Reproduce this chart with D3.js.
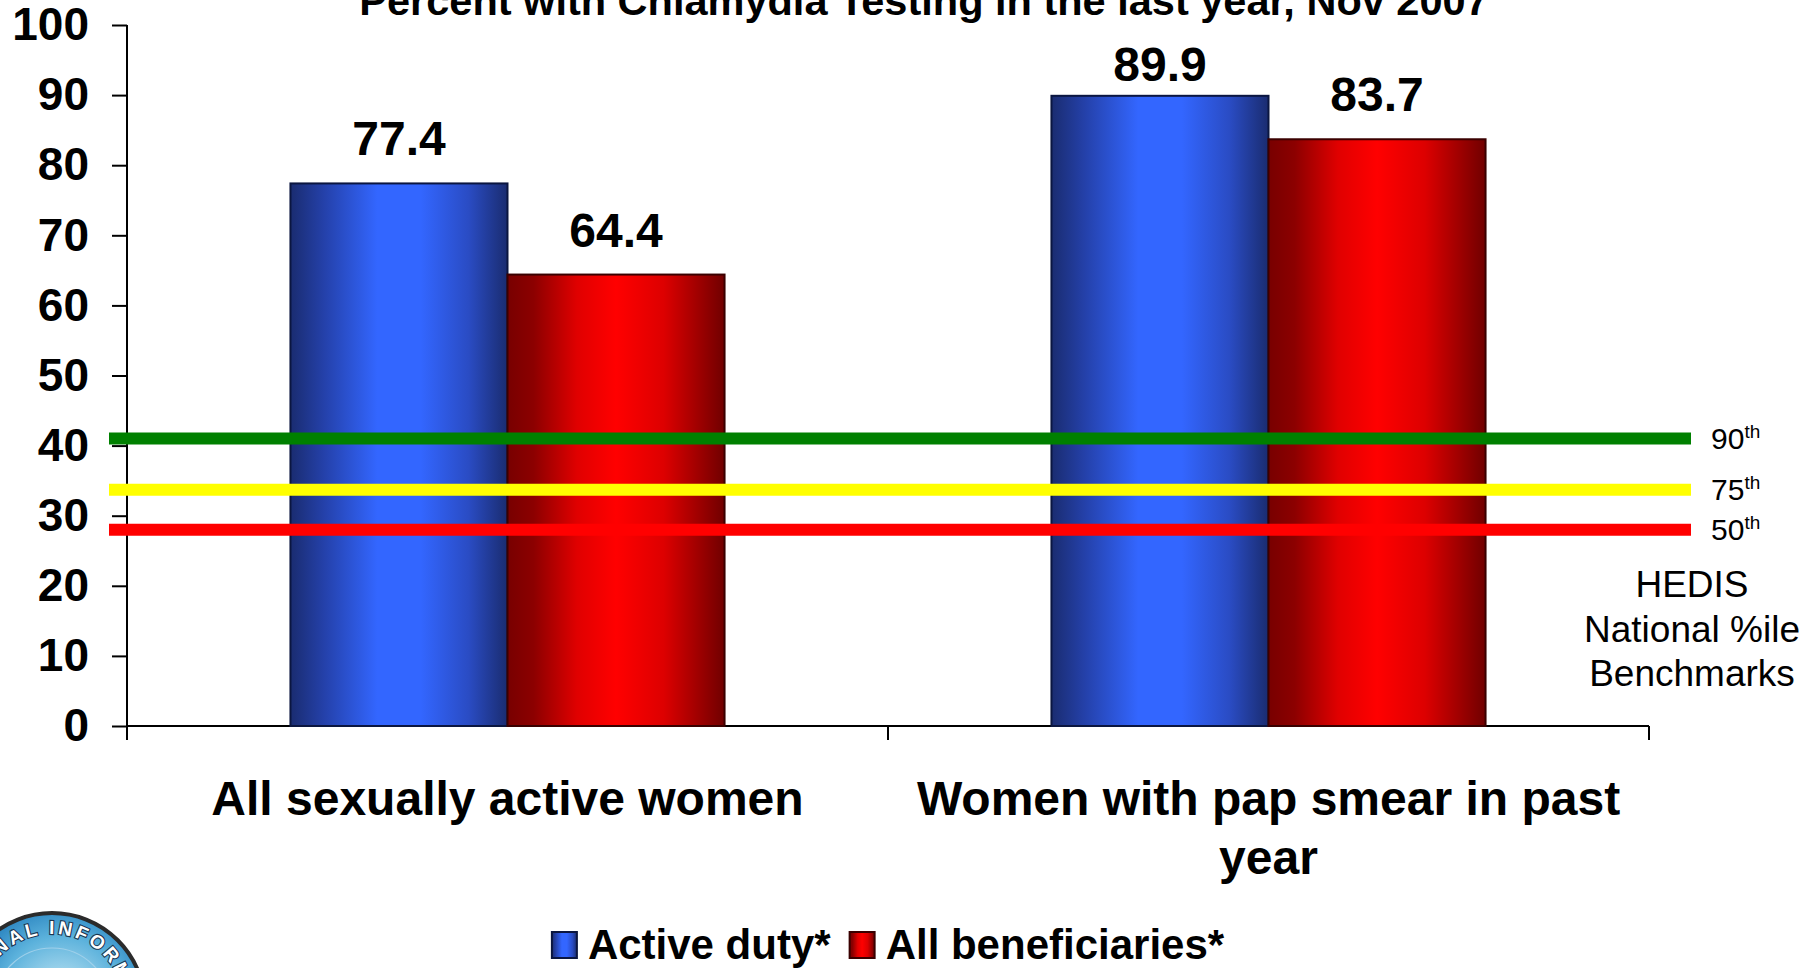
<!DOCTYPE html>
<html>
<head>
<meta charset="utf-8">
<script src="https://cdn.jsdelivr.net/npm/d3@7/dist/d3.min.js"></script>
<style>
    body { margin: 0; background: #ffffff; }
    svg text { font-family: Arial, "Liberation Sans", sans-serif; }
</style>
</head>
<body>
<div id="chart"></div>
<script>
// chart data
var titleText = "Percent with Chlamydia Testing in the last year, Nov 2007";
var categories = ["All sexually active women", "Women with pap smear in past year"];
var seriesNames = ["Active duty*", "All beneficiaries*"];
var activeDuty = [77.4, 89.9];
var allBeneficiaries = [64.4, 83.7];
var yTicks = [0, 10, 20, 30, 40, 50, 60, 70, 80, 90, 100];
var benchmarkLabels = ["90", "75", "50"];
var benchmarkValues = [41, 33.7, 28];
var benchmarkColors = ["#008000", "#ffff00", "#ff0000"];
var benchmarkNote = ["HEDIS", "National %ile", "Benchmarks"];

(function () {
    var width = 1806, height = 968;
    var plotLeft = 127, plotRight = 1649, plotTop = 25, plotBottom = 726;

    var svg = d3.select("#chart").append("svg")
        .attr("width", width)
        .attr("height", height)
        .style("display", "block")
        .style("background", "#ffffff");

    var defs = svg.append("defs");

    //bar gradients (dark edges, bright middle)
    var blueGrad = defs.append("linearGradient").attr("id", "gradBlue")
        .attr("x1", "0").attr("x2", "1").attr("y1", "0").attr("y2", "0");
    [["0%", "#1a2c70"], ["15%", "#2440a8"], ["40%", "#3366ff"], ["60%", "#3366ff"], ["82%", "#2a4cc4"], ["100%", "#1a2c70"]]
        .forEach(function (s) { blueGrad.append("stop").attr("offset", s[0]).attr("stop-color", s[1]); });

    var redGrad = defs.append("linearGradient").attr("id", "gradRed")
        .attr("x1", "0").attr("x2", "1").attr("y1", "0").attr("y2", "0");
    [["0%", "#780000"], ["12%", "#8c0000"], ["32%", "#e00000"], ["50%", "#ff0000"], ["72%", "#dd0000"], ["100%", "#700000"]]
        .forEach(function (s) { redGrad.append("stop").attr("offset", s[0]).attr("stop-color", s[1]); });

    var logoGrad = defs.append("radialGradient").attr("id", "gradLogo")
        .attr("cx", "55%").attr("cy", "45%");
    logoGrad.append("stop").attr("offset", "0%").attr("stop-color", "#cdebf6");
    logoGrad.append("stop").attr("offset", "65%").attr("stop-color", "#5cb2dc");
    logoGrad.append("stop").attr("offset", "100%").attr("stop-color", "#2a84c0");

    var fills = ["url(#gradBlue)", "url(#gradRed)"];
    var strokes = ["#0b1640", "#3a0000"];

    //scales
    var x0 = d3.scaleBand().domain(categories).range([plotLeft, plotRight]).paddingInner(0).paddingOuter(0);
    var x1 = d3.scaleBand().domain(seriesNames).range([0, x0.bandwidth()]).paddingInner(0).paddingOuter(0.753);
    var y = d3.scaleLinear().domain([0, 100]).range([plotBottom, plotTop]);

    var rows = categories.map(function (c, i) {
        return { category: c, values: [
            { series: seriesNames[0], value: activeDuty[i], idx: 0 },
            { series: seriesNames[1], value: allBeneficiaries[i], idx: 1 }
        ] };
    });

    //title (partly cut by the top edge, as in the slide)
    svg.append("text")
        .attr("x", 924)
        .attr("y", 15)
        .style("text-anchor", "middle")
        .style("font-weight", "bold")
        .style("font-size", "41.5px")
        .text(titleText);

    //y axis
    var yAxis = svg.append("g")
        .attr("transform", "translate(" + plotLeft + ",0)")
        .call(d3.axisLeft(y).tickValues(yTicks).tickSize(15).tickSizeOuter(0).tickPadding(23));
    yAxis.select(".domain").attr("stroke", "#000").attr("stroke-width", 2)
        .attr("d", "M0," + plotTop + "V" + (plotBottom + 14));
    yAxis.selectAll(".tick line").attr("stroke", "#000").attr("stroke-width", 2);
    yAxis.selectAll(".tick text")
        .attr("fill", "#000")
        .style("font-family", "Arial, 'Liberation Sans', sans-serif")
        .style("font-weight", "bold")
        .style("font-size", "46px");

    //x axis line and boundary ticks
    svg.append("line")
        .attr("x1", plotLeft).attr("x2", plotRight)
        .attr("y1", plotBottom).attr("y2", plotBottom)
        .style("stroke", "#000").style("stroke-width", 2);
    var boundaries = [x0(categories[0])].concat(categories.map(function (c) { return x0(c) + x0.bandwidth(); }));
    svg.selectAll(".xTick").data(boundaries).enter().append("line")
        .attr("class", "xTick")
        .attr("x1", function (d) { return d; }).attr("x2", function (d) { return d; })
        .attr("y1", plotBottom).attr("y2", plotBottom + 14)
        .style("stroke", "#000").style("stroke-width", 2);

    //bars
    var groups = svg.selectAll(".group").data(rows).enter().append("g")
        .attr("class", "group")
        .attr("transform", function (d) { return "translate(" + x0(d.category) + ",0)"; });

    groups.selectAll("rect").data(function (d) { return d.values; }).enter().append("rect")
        .attr("x", function (d) { return x1(d.series); })
        .attr("y", function (d) { return y(d.value); })
        .attr("width", x1.bandwidth())
        .attr("height", function (d) { return plotBottom - y(d.value); })
        .style("fill", function (d) { return fills[d.idx]; })
        .style("stroke", function (d) { return strokes[d.idx]; })
        .style("stroke-width", 2);

    //value labels
    groups.selectAll(".valueLabel").data(function (d) { return d.values; }).enter().append("text")
        .attr("class", "valueLabel")
        .attr("x", function (d) { return x1(d.series) + x1.bandwidth() / 2; })
        .attr("y", function (d) { return Math.max(y(d.value) - 28, 81); })
        .style("text-anchor", "middle")
        .style("font-weight", "bold")
        .style("font-size", "48px")
        .text(function (d) { return d.value.toFixed(1); });

    //category labels with wrapping
    svg.selectAll(".catLabel").data(categories).enter().append("text")
        .attr("class", "catLabel")
        .attr("x", function (d) { return x0(d) + x0.bandwidth() / 2; })
        .attr("y", 815)
        .style("text-anchor", "middle")
        .style("font-weight", "bold")
        .style("font-size", "48px")
        .each(function (d) {
            var el = d3.select(this);
            var words = d.split(" ");
            var line = [];
            var cx = x0(d) + x0.bandwidth() / 2;
            var tspan = el.append("tspan").attr("x", cx).attr("dy", 0);
            words.forEach(function (w) {
                line.push(w);
                tspan.text(line.join(" "));
                if (tspan.node().getComputedTextLength() > x0.bandwidth() && line.length > 1) {
                    line.pop();
                    tspan.text(line.join(" "));
                    line = [w];
                    tspan = el.append("tspan").attr("x", cx).attr("dy", 59).text(w);
                }
            });
        });

    //benchmark lines (over bars and axis)
    svg.selectAll(".bench").data(benchmarkValues).enter().append("line")
        .attr("class", "bench")
        .attr("x1", plotLeft - 18).attr("x2", plotRight + 42)
        .attr("y1", function (d) { return y(d); }).attr("y2", function (d) { return y(d); })
        .style("stroke", function (d, i) { return benchmarkColors[i]; })
        .style("stroke-width", 12);

    var benchText = svg.selectAll(".benchLabel").data(benchmarkValues).enter().append("text")
        .attr("class", "benchLabel")
        .attr("x", plotRight + 62)
        .attr("y", function (d) { return y(d) + 10; })
        .style("font-size", "30px");
    benchText.append("tspan").text(function (d, i) { return benchmarkLabels[i]; });
    benchText.append("tspan").attr("dy", -11).style("font-size", "19px").text("th");

    svg.selectAll(".benchNote").data(benchmarkNote).enter().append("text")
        .attr("class", "benchNote")
        .attr("x", 1692)
        .attr("y", function (d, i) { return 597 + i * 44.5; })
        .style("text-anchor", "middle")
        .style("font-size", "37px")
        .text(function (d) { return d; });

    //legend, centred under the plot
    var legend = svg.append("g").attr("class", "legend");
    var lx = 0;
    seriesNames.forEach(function (name, i) {
        var item = legend.append("g").attr("transform", "translate(" + lx + ",0)");
        item.append("rect")
            .attr("x", 0).attr("y", 932)
            .attr("width", 25).attr("height", 26)
            .style("fill", fills[i])
            .style("stroke", strokes[i])
            .style("stroke-width", 2);
        var t = item.append("text")
            .attr("x", 36).attr("y", 959)
            .style("font-weight", "bold")
            .style("font-size", "42px")
            .text(name);
        lx += 36 + t.node().getComputedTextLength() + 19;
    });
    var legendWidth = lx - 19;
    legend.attr("transform", "translate(" + ((plotLeft + plotRight) / 2 - legendWidth / 2) + ",0)");

    //logo seal in the corner
    var logo = svg.append("g").attr("transform", "translate(52,1006)");
    logo.append("circle").attr("r", 93)
        .style("fill", "url(#gradLogo)")
        .style("stroke", "#2b2b2b")
        .style("stroke-width", 4);
    logo.append("circle").attr("r", 58)
        .style("fill", "none")
        .style("stroke", "#9fd0ea")
        .style("stroke-width", 1.2);
    defs.append("path").attr("id", "logoArc")
        .attr("d", "M-72,0 A72,72 0 1,1 72,0 A72,72 0 1,1 -72,0");
    logo.append("text")
        .style("font-weight", "bold")
        .style("font-size", "19px")
        .style("letter-spacing", "3px")
        .style("fill", "#ffffff")
        .style("stroke", "#1b3550")
        .style("stroke-width", 2.2)
        .style("paint-order", "stroke")
        .append("textPath")
        .attr("href", "#logoArc")
        .attr("startOffset", 54)
        .text("NAL INFORMATION");
})();
</script>
</body>
</html>
